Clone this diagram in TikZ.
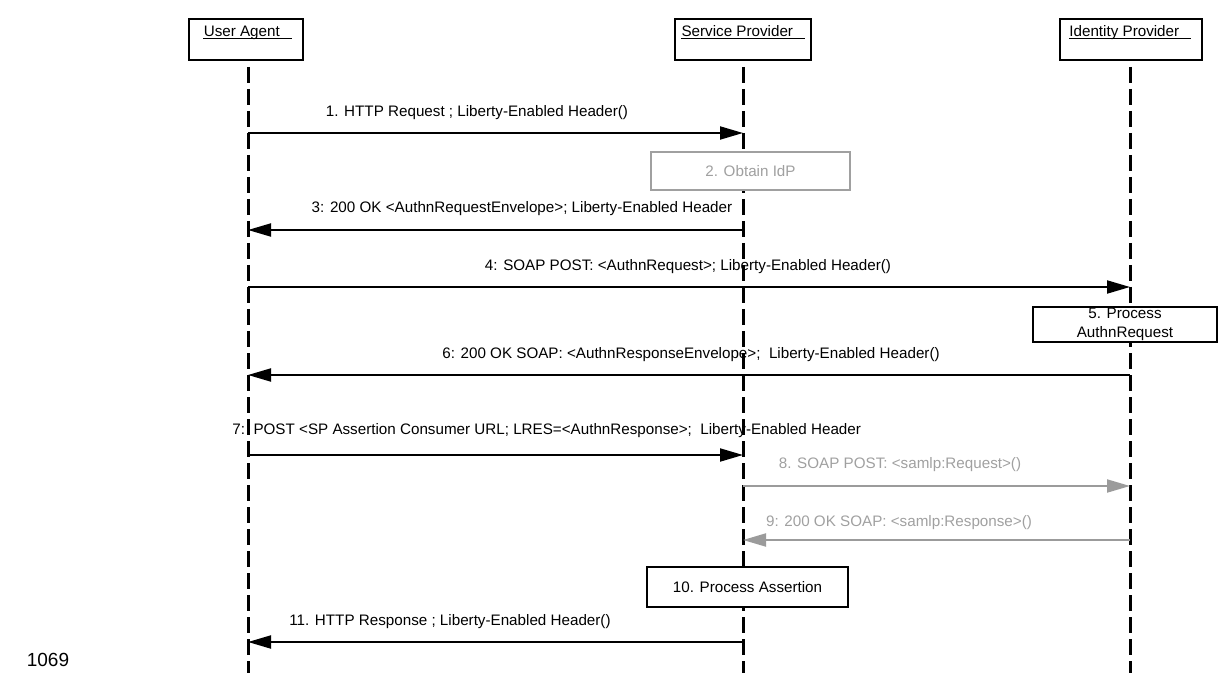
\documentclass[tikz,border=0pt]{standalone}
\usepackage{fontspec}
\setmainfont{Liberation Sans}
\usetikzlibrary{arrows.meta}
\definecolor{greyline}{RGB}{155,155,155}
\definecolor{greytext}{RGB}{160,160,160}
\begin{document}
\begin{tikzpicture}[x=0.5pt,y=-0.5pt,
  font=\fontsize{7.6}{9.5}\selectfont,
  actor/.style={draw,line width=0.8pt,fill=white,minimum height=20.5pt,inner sep=0pt},
  life/.style={line width=1.5pt,dash pattern=on 8pt off 3pt},
  msg/.style={line width=1pt,-{Triangle[length=11.5pt,width=6.5pt]}},
  greymsg/.style={msg,draw=greyline},
  lbl/.style={inner sep=0pt,anchor=base},
  uline/.style={line width=0.5pt},
  act/.style={draw,line width=0.8pt,fill=white,inner sep=0pt,align=center}]
  \useasboundingbox (0,0) rectangle (1219,673);

  % actors
  \node[actor,minimum width=57pt] (ua) at (246,39.5) {};
  \node[actor,minimum width=68pt] (sp) at (743,39.5) {};
  \node[actor,minimum width=71pt] (idp) at (1131,39.5) {};
  \node[lbl] (uat) at (247.5,36.5) {User Agent\kern0.75em};
  \node[lbl] (spt) at (743,36.5) {Service Provider\kern0.75em};
  \node[lbl] (idpt) at (1130,36.5) {Identity Provider\kern0.75em};
  \draw[uline] ([yshift=-1.1pt]uat.base west) -- ([yshift=-1.1pt]uat.base east);
  \draw[uline] ([yshift=-1.1pt]spt.base west) -- ([yshift=-1.1pt]spt.base east);
  \draw[uline] ([yshift=-1.1pt]idpt.base west) -- ([yshift=-1.1pt]idpt.base east);

  % lifelines
  \coordinate (ua0) at (248,67);   \coordinate (uaend) at (248,673);
  \coordinate (sp0) at (743,67);   \coordinate (spend) at (743,673);
  \coordinate (idp0) at (1130,67); \coordinate (idpend) at (1130,673);
  \draw[life] (ua0) -- (uaend);
  \draw[life] (sp0) -- (spend);
  \draw[life] (idp0) -- (idpend);

  % 1
  \coordinate (m1a) at (248,133); \coordinate (m1b) at (743,133);
  \draw[msg] (m1a) -- (m1b);
  \node[lbl] (l1) at (477,117) {1. HTTP Request ; Liberty-Enabled Header()};

  % 2
  \node[act,draw=greytext,text=greytext,minimum width=99.5pt,minimum height=19pt] (a2) at (750.5,171) {2. Obtain IdP};

  % 3
  \coordinate (m3a) at (743,230); \coordinate (m3b) at (248,230);
  \draw[msg] (m3a) -- (m3b);
  \node[lbl] (l3) at (522,213) {3: 200 OK <AuthnRequestEnvelope>; Liberty-Enabled Header};

  % 4
  \coordinate (m4a) at (248,287); \coordinate (m4b) at (1130,287);
  \draw[msg] (m4a) -- (m4b);
  \node[lbl] (l4) at (688,271) {4: SOAP POST: <AuthnRequest>; Liberty-Enabled Header()};

  % 5
  \node[act,minimum width=92pt,minimum height=17.5pt] (a5) at (1125,324.5) {5. Process\\AuthnRequest};

  % 6
  \coordinate (m6a) at (1130,375); \coordinate (m6b) at (248,375);
  \draw[msg] (m6a) -- (m6b);
  \node[lbl] (l6) at (691,358) {6: 200 OK SOAP: <AuthnResponseEnvelope>;\ \ Liberty-Enabled Header()};

  % 7
  \coordinate (m7a) at (248,455); \coordinate (m7b) at (743,455);
  \draw[msg] (m7a) -- (m7b);
  \node[lbl,anchor=base west] (l7) at (232,434) {7:\ \ POST <SP Assertion Consumer URL; LRES=<AuthnResponse>;\ \ Liberty-Enabled Header};

  % 8
  \coordinate (m8a) at (743,486); \coordinate (m8b) at (1130,486);
  \draw[greymsg] (m8a) -- (m8b);
  \node[lbl,text=greytext] (l8) at (900,468) {8. SOAP POST: <samlp:Request>()};

  % 9
  \coordinate (m9a) at (1130,540); \coordinate (m9b) at (743,540);
  \draw[greymsg] (m9a) -- (m9b);
  \node[lbl,text=greytext] (l9) at (899,526) {9: 200 OK SOAP: <samlp:Response>()};

  % 10
  \node[act,minimum width=100.5pt,minimum height=20pt] (a10) at (747.5,587) {10. Process Assertion};

  % 11
  \coordinate (m11a) at (743,642); \coordinate (m11b) at (248,642);
  \draw[msg] (m11a) -- (m11b);
  \node[lbl] (l11) at (450,625) {11. HTTP Response ; Liberty-Enabled Header()};

  \node[lbl,font=\fontsize{9.5}{11}\selectfont] (pg) at (48,666) {1069};
\end{tikzpicture}
\end{document}
